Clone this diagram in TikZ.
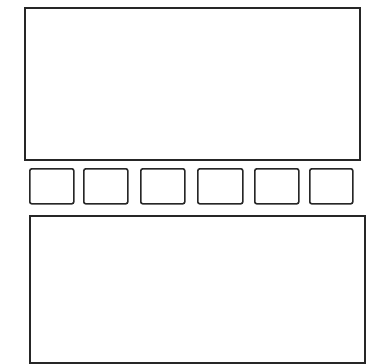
\documentclass[tikz,border=0pt]{standalone}
\begin{document}
\begin{tikzpicture}[x=1pt,y=-1pt,
  bigbox/.style={draw=black!85,line width=1.6pt,inner sep=0pt,minimum width=#1,anchor=north west},
  cell/.style={draw=black!85,line width=1.6pt,rounded corners=2pt,inner sep=0pt,minimum width=44pt,minimum height=35pt,anchor=north west}]
\useasboundingbox (0,0) rectangle (381,364);
\node[bigbox=335pt,minimum height=152pt] (top) at (24,7) {};
\node[cell] (c1) at (29,168) {};
\node[cell] (c2) at (83,168) {};
\node[cell] (c3) at (140,168) {};
\node[cell,minimum width=45pt] (c4) at (197,168) {};
\node[cell] (c5) at (254,168) {};
\node[cell,minimum width=43pt] (c6) at (309,168) {};
\node[bigbox=335pt,minimum height=147pt] (bot) at (29,215) {};
\end{tikzpicture}
\end{document}
